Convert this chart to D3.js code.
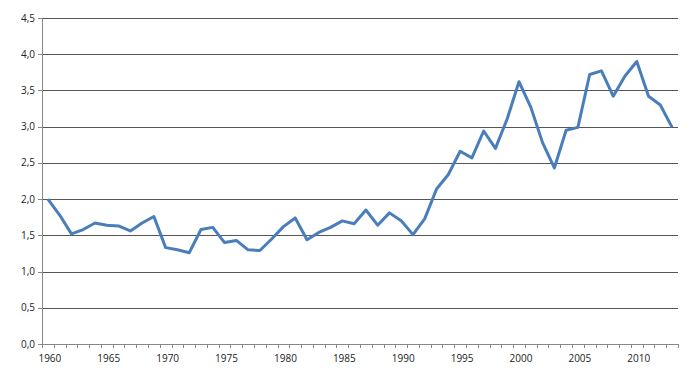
<!DOCTYPE html>
<html>
<head>
<meta charset="utf-8">
<script src="https://cdn.jsdelivr.net/npm/d3@7"></script>
<style>
body { margin: 0; background: #fff; }
#canvas { width: 700px; height: 373px; }
text { font-family: "Open Sans", sans-serif; font-size: 10px; fill: #222; }
</style>
</head>
<body>
<div id="canvas"></div>
<script>
const years = d3.range(1960, 2014);
const values = [
    2.00, 1.78, 1.52, 1.58, 1.67, 1.64, 1.63, 1.56, 1.67, 1.76,
    1.33, 1.30, 1.26, 1.58, 1.61, 1.40, 1.43, 1.30, 1.29, 1.45,
    1.62, 1.74, 1.44, 1.54, 1.61, 1.70, 1.66, 1.85, 1.64, 1.81,
    1.70, 1.51, 1.73, 2.14, 2.34, 2.66, 2.57, 2.94, 2.70, 3.11,
    3.62, 3.27, 2.78, 2.43, 2.95, 2.99, 3.72, 3.77, 3.42, 3.70,
    3.90, 3.42, 3.30, 2.99
];
const yTicks = [0, 0.5, 1, 1.5, 2, 2.5, 3, 3.5, 4, 4.5];
const xLabels = [1960, 1965, 1970, 1975, 1980, 1985, 1990, 1995, 2000, 2005, 2010];

const width = 700, height = 373;
const plotLeft = 42, plotRight = 678, plotTop = 18, plotBottom = 344;

const svg = d3.select("#canvas")
.append("svg")
.attr("width", width)
.attr("height", height);

const x = d3.scaleBand().domain(years).range([plotLeft, plotRight]).padding(0);
const y = d3.scaleLinear().domain([0, 4.5]).range([plotBottom, plotTop]);
const fmt = d => d3.format(".1f")(d).replace(".", ",");

// Gridlines
svg.append("g")
.selectAll("line")
.data(yTicks.filter(d => d > 0))
.join("line")
.attr("x1", plotLeft)
.attr("x2", plotRight)
.attr("y1", d => Math.round(y(d)) + 0.5)
.attr("y2", d => Math.round(y(d)) + 0.5)
.attr("stroke", "#555")
.attr("stroke-width", 1);

// Y axis line, ticks and labels
svg.append("line")
.attr("x1", plotLeft + 0.5).attr("x2", plotLeft + 0.5)
.attr("y1", plotTop).attr("y2", plotBottom)
.attr("stroke", "#888");

svg.append("g")
.selectAll("line")
.data(yTicks)
.join("line")
.attr("x1", plotLeft - 4)
.attr("x2", plotLeft)
.attr("y1", d => Math.round(y(d)) + 0.5)
.attr("y2", d => Math.round(y(d)) + 0.5)
.attr("stroke", "#888");

svg.append("g")
.selectAll("text")
.data(yTicks)
.join("text")
.attr("x", plotLeft - 7)
.attr("y", d => y(d))
.attr("dy", "0.35em")
.attr("text-anchor", "end")
.text(fmt);

// X axis line, ticks and labels
svg.append("line")
.attr("x1", plotLeft).attr("x2", plotRight)
.attr("y1", plotBottom + 0.5).attr("y2", plotBottom + 0.5)
.attr("stroke", "#888");

const bounds = years.map(d => x(d)).concat([plotRight]);
svg.append("g")
.selectAll("line")
.data(bounds)
.join("line")
.attr("x1", d => Math.round(d) + 0.5)
.attr("x2", d => Math.round(d) + 0.5)
.attr("y1", plotBottom)
.attr("y2", plotBottom + 4)
.attr("stroke", "#888");

svg.append("g")
.selectAll("text")
.data(xLabels)
.join("text")
.attr("x", d => x(d) + x.bandwidth() / 2 + 2)
.attr("y", plotBottom + 14)
.attr("dy", "0.35em")
.attr("text-anchor", "middle")
.text(d => d);

// Data line
const line = d3.line()
.x((d, i) => x(years[i]) + x.bandwidth() / 2)
.y(d => y(d));

svg.append("path")
.datum(values)
.attr("d", line)
.attr("fill", "none")
.attr("stroke", "#4a7ebb")
.attr("stroke-width", 3)
.attr("stroke-linejoin", "round");
</script>
</body>
</html>
